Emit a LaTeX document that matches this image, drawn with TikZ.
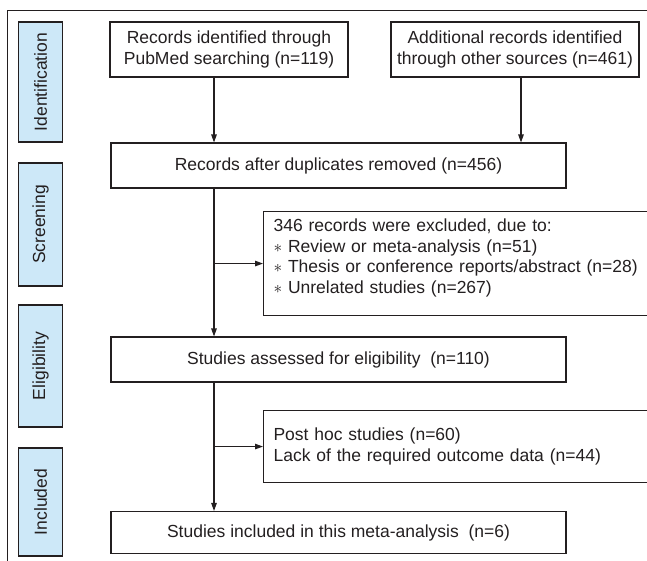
\documentclass[tikz,border=0pt]{standalone}
\usepackage{fontspec}
\setmainfont{Liberation Sans}
\usetikzlibrary{arrows.meta}
\definecolor{sidefill}{RGB}{205,232,248}
\definecolor{ink}{RGB}{35,31,32}
\begin{document}
\begin{tikzpicture}[x=1pt,y=-1pt,
  every node/.style={font=\fontsize{17.5}{20.7}\selectfont, text=ink},
  mbox/.style={draw=ink, line width=1.1pt, align=center, inner sep=0pt},
  sidebox/.style={draw=ink, line width=1.1pt, fill=sidefill, rotate=90, minimum height=44pt, inner sep=0pt},
  exbox/.style={draw=ink, line width=1.1pt, anchor=north west, align=left, inner xsep=10pt, inner ysep=0pt, text width=377pt},
  arr/.style={draw=ink, line width=1.1pt, -{Triangle[length=8pt,width=5.5pt]}},
  frameline/.style={draw=ink, line width=1pt}
]
\useasboundingbox (0,0) rectangle (647,560);
\clip (0,0) rectangle (647,560);
\draw[frameline] (7.5,10.7) rectangle (720,640);

% side labels
\node[sidebox, minimum width=120pt] (s1) at (40.5,82) {Identification};
\node[sidebox, minimum width=123pt] (s2) at (40.5,224.5) {Screening};
\node[sidebox, minimum width=122pt] (s3) at (40.5,366) {Eligibility};
\node[sidebox, minimum width=108pt] (s4) at (40.5,502) {Included};

% main boxes
\node[mbox, minimum width=238pt, minimum height=55pt] (b1) at (229,49.5) {Records identified through\\PubMed searching (n=119)};
\node[mbox, minimum width=248pt, minimum height=55pt] (b2) at (515,49.5) {Additional records identified\\through other sources (n=461)};
\node[mbox, minimum width=455pt, minimum height=45pt] (b3) at (338.5,165.5) {Records after duplicates removed (n=456)};
\node[mbox, minimum width=455pt, minimum height=45pt] (el) at (338.5,359.5) {Studies assessed for eligibility\ \ (n=110)};
\node[mbox, minimum width=455pt, minimum height=42pt] (inc) at (338.5,532.5) {Studies included in this meta-analysis\ \ (n=6)};

% exclusion boxes
\node[exbox, minimum height=104pt] (ex1) at (263,211) {346 records were excluded, due to:\\
$\ast$ Review or meta-analysis (n=51)\\
$\ast$ Thesis or conference reports/abstract (n=28)\\
$\ast$ Unrelated studies (n=267)\rule[-15pt]{0pt}{15pt}};
\node[exbox, minimum height=72pt] (ex2) at (263,410) {Post hoc studies (n=60)\\Lack of the required outcome data (n=44)};

% connectors
\coordinate (mx) at (214,0);
\coordinate (rx) at (521,0);
\draw[arr] (b1.south -| mx) -- (b3.north -| mx);
\draw[arr] (b2.south -| rx) -- (b3.north -| rx);
\draw[arr] (b3.south -| mx) -- (el.north -| mx);
\draw[arr] (mx |- ex1.west) -- (ex1.west);
\draw[arr] (el.south -| mx) -- (inc.north -| mx);
\draw[arr] (mx |- ex2.west) -- (ex2.west);
\end{tikzpicture}
\end{document}
